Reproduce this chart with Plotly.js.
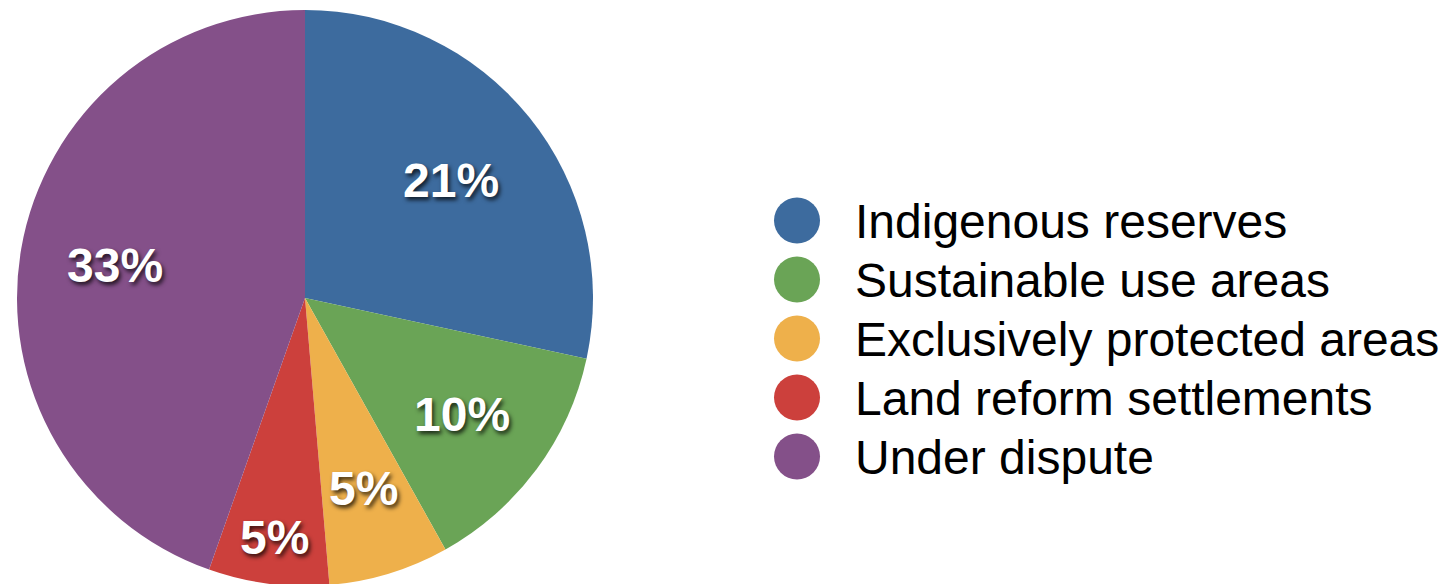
<!DOCTYPE html>
<html>
<head>
<meta charset="utf-8">
<script src="https://cdn.plot.ly/plotly-3.0.1.min.js"></script>
<style>
html, body { margin: 0; padding: 0; overflow: hidden; background: #fff; }
#chart { width: 1449px; height: 590px; }
</style>
</head>
<body>
<div id="chart"></div>
<script>
// Data
var categories = ["Indigenous reserves", "Sustainable use areas", "Exclusively protected areas", "Land reform settlements", "Under dispute"];
var values = [21, 10, 5, 5, 33];
// Style
var colors = ["#3d6b9e", "#6aa456", "#eeb04b", "#cc403c", "#845089"];
var labelRadius = [0.65, 0.68, 0.69, 0.84, 0.67]; // fraction of pie radius for each slice label

var W = 1449, H = 590;
var pieX = [17 / W, 593 / W], pieY = [4 / H, 580 / H];

var pie = {
  type: "pie",
  labels: categories,
  values: values,
  sort: false,
  direction: "clockwise",
  rotation: 0,
  marker: { colors: colors, line: { width: 0 } },
  textinfo: "none",
  domain: { x: pieX, y: pieY },
  hoverinfo: "skip",
  showlegend: false
};

// Slice labels placed along each slice's mid-angle (computed from the values)
var total = values.reduce(function (a, b) { return a + b; }, 0);
var cxp = (pieX[0] + pieX[1]) / 2 * W, cyp = (pieY[0] + pieY[1]) / 2 * H;
var Rp = (pieX[1] - pieX[0]) * W / 2;
var cum = 0;
var annotations = values.map(function (v, i) {
  var mid = (cum + v / 2) / total * 2 * Math.PI;
  cum += v;
  var r = labelRadius[i] * Rp;
  var px = cxp + r * Math.sin(mid);
  var py = cyp + r * Math.cos(mid);
  return {
    xref: "paper", yref: "paper",
    x: px / W, y: py / H,
    xanchor: "center", yanchor: "middle",
    showarrow: false,
    text: v + "%",
    font: { family: "Liberation Sans, Arial, sans-serif", size: 48, color: "#ffffff", weight: "bold", shadow: "2px 3px 4px rgba(0,0,0,0.75)" }
  };
});

// Legend drawn as scatter traces on hidden categorical axes
var legendMarkers = {
  type: "scatter",
  mode: "markers",
  x: categories.map(function () { return 0; }),
  y: categories,
  marker: { size: 46, color: colors, line: { width: 0 } },
  xaxis: "x", yaxis: "y",
  hoverinfo: "skip",
  showlegend: false
};
var legendText = {
  type: "scatter",
  mode: "text",
  x: categories.map(function () { return 1; }),
  y: categories,
  text: categories,
  textposition: "middle right",
  textfont: { family: "Liberation Sans, Arial, sans-serif", size: 48, color: "#000000" },
  xaxis: "x", yaxis: "y2",
  hoverinfo: "skip",
  showlegend: false,
  cliponaxis: false
};

var layout = {
  width: W, height: H,
  margin: { l: 0, r: 0, t: 0, b: 0, pad: 0 },
  paper_bgcolor: "#ffffff",
  plot_bgcolor: "rgba(0,0,0,0)",
  showlegend: false,
  annotations: annotations,
  xaxis: { domain: [0.5, 1], range: [-1.25, 11.24], visible: false, fixedrange: true },
  yaxis: { type: "category", categoryarray: categories, range: [6.263, -3.737], visible: false, fixedrange: true },
  yaxis2: { type: "category", categoryarray: categories, range: [6.17, -3.83], visible: false, fixedrange: true, overlaying: "y" }
};

Plotly.newPlot("chart", [pie, legendMarkers, legendText], layout, { displayModeBar: false, staticPlot: true });
</script>
</body>
</html>
